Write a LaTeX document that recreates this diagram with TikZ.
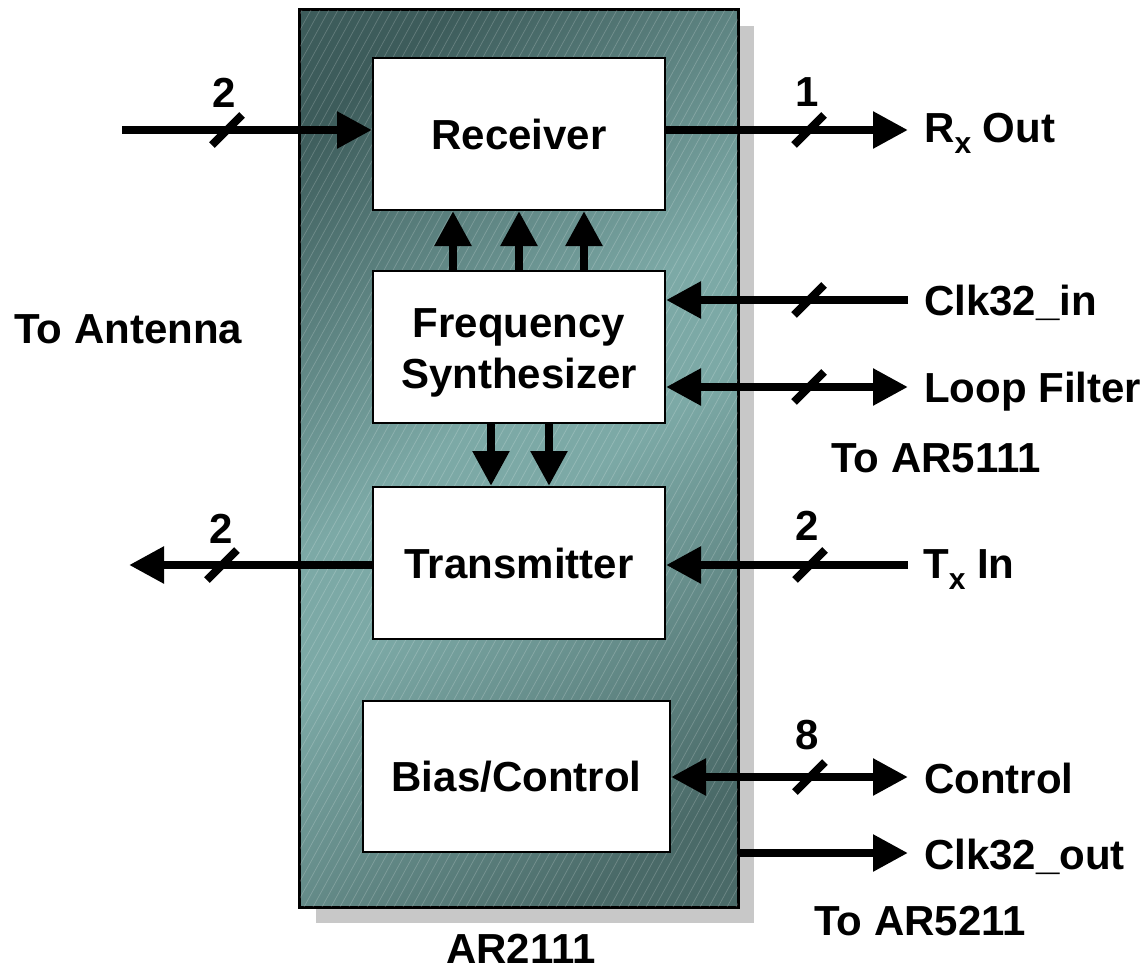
\documentclass[tikz,border=0pt]{standalone}
\usepackage{fontspec}
\setmainfont{Liberation Sans}
\usetikzlibrary{arrows.meta}
\definecolor{chipdark}{HTML}{3D5C5B}
\definecolor{chiplight}{HTML}{7CA9A6}
\definecolor{chipdarkb}{HTML}{4A6A68}
\definecolor{shadowgray}{HTML}{C8C8C8}
\pgfdeclareverticalshading{chipshade}{100bp}{color(0bp)=(chipdarkb); color(22bp)=(chipdarkb); color(46bp)=(chiplight); color(54bp)=(chiplight); color(78bp)=(chipdark); color(100bp)=(chipdark)}
\begin{document}
\begin{tikzpicture}[x=1pt,y=-1pt,
  txt/.style={inner sep=0pt,font=\bfseries\fontsize{42}{51}\selectfont},
  blk/.style={draw=black,line width=2pt,fill=white,inner sep=0pt,
    text height=30pt,text depth=0pt,font=\bfseries\fontsize{42}{51}\selectfont},
  chipbox/.style={draw=black,line width=2pt,inner sep=0pt,
    shade,shading=chipshade,shading angle=38},
  sig/.style={line width=8.5pt},
  arr/.style={-{Triangle[length=35pt,width=35pt]}},
  darr/.style={{Triangle[length=35pt,width=35pt]}-{Triangle[length=35pt,width=35pt]}},
  buscut/.style={line width=8pt},
  hatchline/.style={white,opacity=0.2,line width=0.7pt}
]
\useasboundingbox (0,0) rectangle (1148,972);
% shadow and chip body
\fill[shadowgray] (316,26) rectangle (754,923);
\node[chipbox,minimum width=438pt,minimum height=897pt] (chip) at (519,458.5) {};
\begin{scope}
  \clip (chip.north west) rectangle (chip.south east);
  \foreach \i in {0,...,115} {
    \draw[hatchline] ({-200+9*\i},907) -- ({-200+9*\i+493},10);
  }
\end{scope}
\draw[line width=2pt] (chip.north west) rectangle (chip.south east);

% blocks
\node[blk,minimum width=292pt,minimum height=152pt] (rx) at (519,134) {Receiver};
\node[blk,minimum width=292pt,minimum height=152pt] (fs) at (519,347) {};
\node[txt,anchor=base] (fs1) at (519,337) {Frequency};
\node[txt,anchor=base] (fs2) at (519,388) {Synthesizer};
\node[blk,minimum width=292pt,minimum height=152pt] (tx) at (519,563) {Transmitter};
\node[blk,minimum width=307pt,minimum height=151pt] (bc) at (516.5,776.5) {Bias/Control};

% internal arrows
\draw[sig,arr] ([xshift=-66pt]fs.north) -- ([xshift=-66pt]rx.south);
\draw[sig,arr] (fs.north) -- (rx.south);
\draw[sig,arr] ([xshift=65pt]fs.north) -- ([xshift=65pt]rx.south);
\draw[sig,arr] ([xshift=-28pt]fs.south) -- ([xshift=-28pt]tx.north);
\draw[sig,arr] ([xshift=30pt]fs.south) -- ([xshift=30pt]tx.north);

% free ends
\coordinate (antin) at (122,130);
\coordinate (rxout) at (908,130);
\coordinate (clkin) at (908,300);
\coordinate (loopf) at (908,387);
\coordinate (txin) at (908,565);
\coordinate (txout) at (129,565);
\coordinate (ctrl) at (908,777);
\coordinate (clkout) at (908,853);

% external connectors
\draw[sig,arr] (antin) -- (antin -| rx.west);
\draw[sig,arr] (rxout -| rx.east) -- (rxout);
\draw[sig,arr] (clkin) -- (clkin -| fs.east);
\draw[sig,darr] (loopf -| fs.east) -- (loopf);
\draw[sig,arr] (txin) -- (txin -| tx.east);
\draw[sig,arr] (txout -| tx.west) -- (txout);
\draw[sig,darr] (ctrl -| bc.east) -- (ctrl);
\draw[sig,arr] (clkout -| chip.east) -- (clkout);

% bus slashes
\foreach \n/\cx/\cy in {a/227/130, b/809/130, c/809/300, d/809/387, e/810/565, f/222/565, g/810/777} {
  \coordinate (cut\n) at (\cx,\cy);
  \draw[buscut] ([shift={(-15,15)}]cut\n) -- ([shift={(15,-15)}]cut\n);
}

% bus widths
\node[txt,anchor=base] (w1) at (224,107) {2};
\node[txt,anchor=base] (w2) at (807,106) {1};
\node[txt,anchor=base] (w3) at (221,543) {2};
\node[txt,anchor=base] (w4) at (807,540) {2};
\node[txt,anchor=base] (w5) at (807,749) {8};

% outside labels
\node[txt,anchor=base west] (lrx) at (924,142) {R\raisebox{-11pt}{\fontsize{30}{30}\selectfont x} Out};
\node[txt,anchor=base west] (lck) at (924,315) {Clk32\_in};
\node[txt,anchor=base west] (llf) at (924,402) {Loop Filter};
\node[txt,anchor=base west] (l5111) at (831,472) {To AR5111};
\node[txt,anchor=base west] (ltx) at (923,578) {T\raisebox{-11pt}{\fontsize{30}{30}\selectfont x} In};
\node[txt,anchor=base west] (lct) at (924,793) {Control};
\node[txt,anchor=base west] (lco) at (924,869) {Clk32\_out};
\node[txt,anchor=base west] (l5211) at (814,935) {To AR5211};
\node[txt,anchor=base west] (lant) at (14,343) {To Antenna};
\node[txt,anchor=base] (lchip) at (521,963) {AR2111};
\end{tikzpicture}
\end{document}
